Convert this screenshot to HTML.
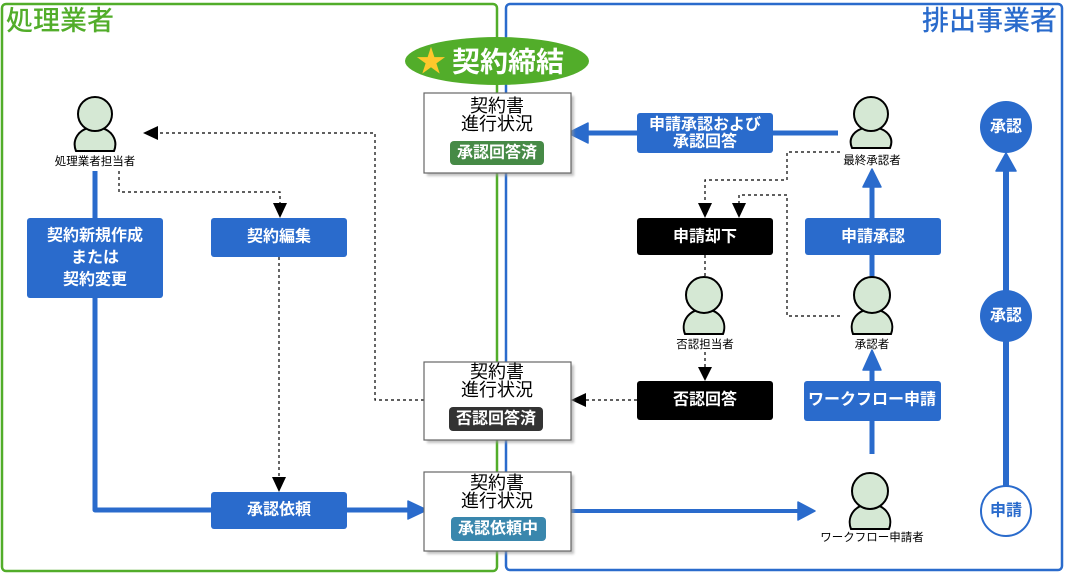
<!DOCTYPE html>
<html><head><meta charset="utf-8"><style>
html,body{margin:0;padding:0;background:#fff;}
svg{display:block;}
text{font-family:"Liberation Sans","Noto Sans CJK JP",sans-serif;}
</style></head><body>
<svg width="1069" height="573" viewBox="0 0 1069 573" xmlns="http://www.w3.org/2000/svg">
<defs>
<filter id="sh" x="-10%" y="-10%" width="130%" height="130%"><feGaussianBlur stdDeviation="1.2"/></filter>
</defs>
<rect width="1069" height="573" fill="#fff"/>
<!-- containers -->
<rect x="2" y="4" width="495" height="567" rx="4" fill="none" stroke="#52ad2a" stroke-width="2.5"/>
<rect x="506" y="4" width="556" height="566" rx="4" fill="none" stroke="#2a6bcc" stroke-width="2.5"/>
<text x="6" y="21" font-size="27" font-weight="500" fill="#52ad2a" dominant-baseline="central">処理業者</text>
<text x="1057" y="21" font-size="27" font-weight="500" fill="#2a6bcc" text-anchor="end" dominant-baseline="central">排出事業者</text>

<!-- dashed connectors -->
<g fill="none" stroke="#000" stroke-width="1.2" stroke-dasharray="3 3">
<path d="M119 171 V192 H280 V204"/>
<path d="M279 257 V478"/>
<path d="M424 400 H375 V133 H158"/>
<path d="M637 400 H586"/>
<path d="M840 152 H787 V180 H705 V204"/>
<path d="M840 316 H787 V195 H739 V204"/>
<path d="M705 255 V278"/>
<path d="M705 352 V367"/>
</g>
<g fill="#000">
<polygon points="273,203 287,203 280,218"/>
<polygon points="272,477 286,477 279,492"/>
<polygon points="158,126 158,140 143,133"/>
<polygon points="586,393 586,407 571,400"/>
<polygon points="698,203 712,203 705,218"/>
<polygon points="732,203 746,203 739,218"/>
<polygon points="698,367 712,367 705,381"/>
</g>

<!-- blue connectors -->
<g fill="none" stroke="#2a6bcc" stroke-linejoin="round">
<path d="M95 171 V510 H211" stroke-width="5"/>
<path d="M347 510 H410" stroke-width="5"/>
<path d="M838 133 H585" stroke-width="5"/>
<path d="M872 278 V185" stroke-width="5"/>
<path d="M872 454 V368" stroke-width="5"/>
<path d="M571 511 H800" stroke-width="4"/>
<path d="M1006 486 V168" stroke-width="6"/>
</g>
<g fill="#2a6bcc" stroke="#2a6bcc" stroke-width="1.5" stroke-linejoin="round">
<polygon points="408,501 427,510 408,519"/>
<polygon points="588,123 568,133 588,143"/>
<polygon points="863,187 872,169 881,187"/>
<polygon points="863,370 872,350 881,370"/>
<polygon points="798,502 815,511 798,520"/>
<polygon points="996,171 1006,153 1016,171"/>
</g>

<!-- ellipse -->
<ellipse cx="497" cy="61" rx="92" ry="24" fill="#52ad2a"/>
<text x="431" y="62" font-size="30" fill="#ffc82c" text-anchor="middle" dominant-baseline="central">★</text>
<text x="452" y="62" font-size="28" font-weight="bold" fill="#fff" dominant-baseline="central">契約締結</text>

<!-- status boxes -->
<g>
<rect x="427" y="96" width="147" height="80" fill="#999" opacity="0.6" filter="url(#sh)"/>
<rect x="424" y="93" width="147" height="80" fill="#fff" stroke="#666" stroke-width="1.2"/>
<text x="497" y="106" font-size="18" text-anchor="middle" dominant-baseline="central">契約書</text>
<text x="497" y="124" font-size="18" text-anchor="middle" dominant-baseline="central">進行状況</text>
<rect x="450" y="141" width="94" height="24" rx="4" fill="#468a46"/>
<text x="497" y="153" font-size="16" font-weight="bold" fill="#fff" text-anchor="middle" dominant-baseline="central">承認回答済</text>

<rect x="427" y="365" width="147" height="78" fill="#999" opacity="0.6" filter="url(#sh)"/>
<rect x="424" y="362" width="147" height="78" fill="#fff" stroke="#666" stroke-width="1.2"/>
<text x="497" y="372" font-size="18" text-anchor="middle" dominant-baseline="central">契約書</text>
<text x="497" y="390" font-size="18" text-anchor="middle" dominant-baseline="central">進行状況</text>
<rect x="449" y="407" width="94" height="24" rx="4" fill="#333"/>
<text x="496" y="419" font-size="16" font-weight="bold" fill="#fff" text-anchor="middle" dominant-baseline="central">否認回答済</text>

<rect x="427" y="475" width="147" height="79" fill="#999" opacity="0.6" filter="url(#sh)"/>
<rect x="424" y="472" width="147" height="79" fill="#fff" stroke="#666" stroke-width="1.2"/>
<text x="497" y="483" font-size="18" text-anchor="middle" dominant-baseline="central">契約書</text>
<text x="497" y="501" font-size="18" text-anchor="middle" dominant-baseline="central">進行状況</text>
<rect x="451" y="517" width="95" height="24" rx="4" fill="#3a87ad"/>
<text x="498" y="529" font-size="16" font-weight="bold" fill="#fff" text-anchor="middle" dominant-baseline="central">承認依頼中</text>
</g>

<!-- blue action boxes -->
<g fill="#2a6bcc">
<rect x="27" y="218" width="136" height="80" rx="3"/>
<rect x="211" y="218" width="136" height="39" rx="3"/>
<rect x="211" y="492" width="136" height="37" rx="3"/>
<rect x="637" y="113" width="136" height="40" rx="3"/>
<rect x="805" y="218" width="136" height="37" rx="3"/>
<rect x="804" y="381" width="137" height="40" rx="3"/>
</g>
<g fill="#000">
<rect x="637" y="218" width="136" height="37" rx="3"/>
<rect x="637" y="381" width="136" height="39" rx="3"/>
</g>
<g font-size="16" font-weight="bold" fill="#fff" text-anchor="middle" dominant-baseline="central">
<text x="95" y="236">契約新規作成</text>
<text x="95" y="258">または</text>
<text x="95" y="280">契約変更</text>
<text x="279" y="237">契約編集</text>
<text x="279" y="510">承認依頼</text>
<text x="705" y="125">申請承認および</text>
<text x="705" y="142">承認回答</text>
<text x="705" y="237">申請却下</text>
<text x="705" y="400">否認回答</text>
<text x="873" y="237">申請承認</text>
<text x="872" y="400">ワークフロー申請</text>
</g>

<!-- circles -->
<circle cx="1006" cy="127" r="26" fill="#2a6bcc"/>
<circle cx="1006" cy="316" r="26" fill="#2a6bcc"/>
<circle cx="1006" cy="511" r="25" fill="#fff" stroke="#2a6bcc" stroke-width="2"/>
<g font-size="16" font-weight="bold" text-anchor="middle" dominant-baseline="central">
<text x="1006" y="127" fill="#fff">承認</text>
<text x="1006" y="316" fill="#fff">承認</text>
<text x="1006" y="511" fill="#2a6bcc">申請</text>
</g>

<!-- persons -->
<g fill="#d5e8d4" stroke="#000" stroke-width="2">
<g transform="translate(95,97)">
<path d="M-19 54 C-23 44 -18 31 0 30 C18 31 23 44 19 54 Z"/>
<circle cx="0" cy="17" r="17"/>
</g>
<g transform="translate(871,98)">
<path d="M-19 50 C-23 41 -18 30 0 29 C18 30 23 41 19 50 Z"/>
<circle cx="0" cy="16" r="17"/>
</g>
<g transform="translate(872,278)">
<path d="M-19 56 C-23 46 -18 32 0 31 C18 32 23 46 19 56 Z"/>
<circle cx="0" cy="17" r="18"/>
</g>
<g transform="translate(704,278)">
<path d="M-19 56 C-23 46 -18 32 0 31 C18 32 23 46 19 56 Z"/>
<circle cx="0" cy="17" r="18"/>
</g>
<g transform="translate(870,474)">
<path d="M-19 55 C-23 45 -18 31 0 30 C18 31 23 45 19 55 Z"/>
<circle cx="0" cy="17" r="18"/>
</g>
</g>
<g font-size="11.5" fill="#000" text-anchor="middle" dominant-baseline="central">
<text x="95" y="162">処理業者担当者</text>
<text x="872" y="161">最終承認者</text>
<text x="872" y="345">承認者</text>
<text x="705" y="345">否認担当者</text>
<text x="872" y="538">ワークフロー申請者</text>
</g>
</svg>
</body></html>
